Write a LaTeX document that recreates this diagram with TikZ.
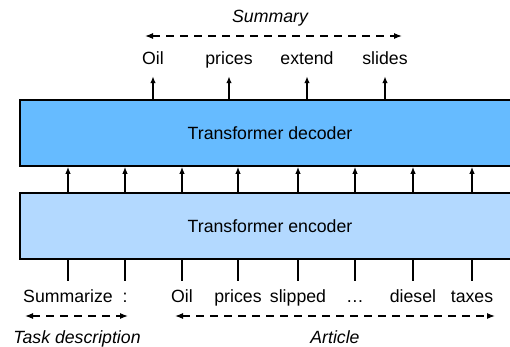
\documentclass[tikz,border=0pt]{standalone}
\usepackage{fontspec}
\setmainfont{Liberation Sans}
\usetikzlibrary{arrows.meta}
\definecolor{deccol}{RGB}{102,187,255}
\definecolor{enccol}{RGB}{179,217,255}

\begin{document}
\begin{tikzpicture}[x=1pt,y=-1pt,
  every node/.style={font=\fontsize{17.7}{21}\selectfont},
  block/.style={draw=black, line width=1.6pt, minimum width=500pt, minimum height=66pt, inner sep=0pt},
  word/.style={anchor=base, inner sep=0pt, text height=12pt, text depth=4pt},
  up/.style={line width=1.4pt, -{Latex[length=7pt,width=5.5pt]}},
  span/.style={line width=1.2pt, dash pattern=on 8pt off 6pt, {Latex[length=8pt,width=6pt]}-{Latex[length=8pt,width=6pt]}},
  spanlabel/.style={anchor=base, font=\fontsize{17.7}{21}\selectfont\itshape}]
  \useasboundingbox (0,0) rectangle (510,347);

  %Encoder and decoder blocks
  \node[block, fill=deccol] (dec) at (270,133) {Transformer decoder};
  \node[block, fill=enccol] (enc) at (270,226) {Transformer encoder};

  %Input tokens
  \foreach \x/\t [count=\i] in {68/Summarize,125/:,182/Oil,238/prices,298/slipped,355/…,413/diesel,472/taxes}
  {
    \node[word] (tok\i) at (\x,302) {\t};
    \draw[line width=1.4pt, shorten <=9pt] (tok\i.north) -- (tok\i.north |- enc.south);
    \draw[up] (enc.north -| tok\i) -- (dec.south -| tok\i);
  }

  %Output tokens
  \foreach \x/\t [count=\i] in {153/Oil,229/prices,307/extend,385/slides}
  {
    \node[word] (out\i) at (\x,65) {\t};
    \draw[up, shorten >=7pt] (dec.north -| out\i) -- (out\i.south);
  }

  %Spans with labels
  \coordinate (sumL) at (145,36);
  \coordinate (sumR) at (402,36);
  \draw[span] (sumL) -- (sumR);
  \node[spanlabel] (summary) at (270,23) {Summary};

  \coordinate (taskL) at (25,316);
  \coordinate (taskR) at (128,316);
  \draw[span] (taskL) -- (taskR);
  \node[spanlabel] (task) at (77,343) {Task description};

  \coordinate (artL) at (175,316);
  \coordinate (artR) at (495,316);
  \draw[span] (artL) -- (artR);
  \node[spanlabel] (article) at (335,343) {Article};
\end{tikzpicture}
\end{document}
